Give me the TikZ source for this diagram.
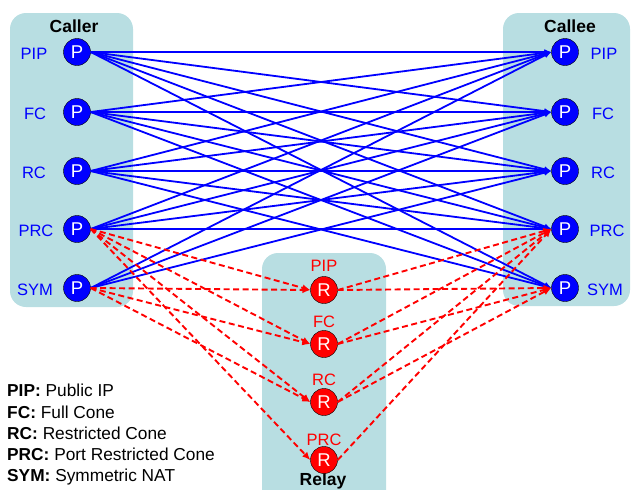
\documentclass[tikz,border=0pt]{standalone}
\usepackage{fontspec}
\setmainfont{Liberation Sans}
\usetikzlibrary{arrows.meta}
\definecolor{CZone}{HTML}{B8DEE2}
\definecolor{CBlue}{HTML}{0000FF}
\definecolor{CRed}{HTML}{FF0000}

\begin{document}
\begin{tikzpicture}[x=1pt, y=-1pt,
    zone/.style={fill=CZone, rounded corners=16pt},
    title/.style={font=\fontsize{17.5}{20}\selectfont\bfseries, anchor=base},
    pnode/.style={circle, draw=black, fill=CBlue, text=white, minimum size=27pt, inner sep=0pt, font=\fontsize{18.5}{20}\selectfont},
    rnode/.style={pnode, fill=CRed},
    plbl/.style={text=CBlue, font=\fontsize{16.5}{19}\selectfont},
    rlbl/.style={text=CRed, font=\fontsize{16.5}{19}\selectfont},
    direct/.style={CBlue, line width=1.8pt, -{Latex[length=7pt,width=6pt]}},
    relayed/.style={CRed, line width=1.9pt, dash pattern=on 6pt off 3.5pt, -{Latex[length=8pt,width=7pt]}}
]
    \useasboundingbox (0,0) rectangle (632,490);

    % Zones
    \fill[zone] (10,13) rectangle (133,307);
    \fill[zone] (503,13) rectangle (630,306);
    \fill[zone] (262,253) rectangle (386,510);
    \node[title] (caller) at (74,32) {Caller};
    \node[title] (callee) at (570,32) {Callee};
    \node[title] (relay) at (323,485) {Relay};

    % Caller peers
    \node[pnode] (cPIP) at (77,52) {P};
    \node[pnode] (cFC) at (77,112) {P};
    \node[pnode] (cRC) at (77,171) {P};
    \node[pnode] (cPRC) at (77,229) {P};
    \node[pnode] (cSYM) at (77,288) {P};
    \node[plbl] at (34,54) {PIP};
    \node[plbl] at (35,114) {FC};
    \node[plbl] at (34,173) {RC};
    \node[plbl] at (36,231) {PRC};
    \node[plbl] at (35,290) {SYM};

    % Callee peers
    \node[pnode] (ePIP) at (565,52) {P};
    \node[pnode] (eFC) at (565,112) {P};
    \node[pnode] (eRC) at (565,171) {P};
    \node[pnode] (ePRC) at (565,229) {P};
    \node[pnode] (eSYM) at (565,288) {P};
    \node[plbl] at (604,54) {PIP};
    \node[plbl] at (603,114) {FC};
    \node[plbl] at (603,173) {RC};
    \node[plbl] at (607,231) {PRC};
    \node[plbl] at (605,290) {SYM};

    % Relays
    \node[rnode] (rPIP) at (324,290) {R};
    \node[rnode] (rFC) at (324,344) {R};
    \node[rnode] (rRC) at (324,402) {R};
    \node[rnode] (rPRC) at (324,460) {R};
    \node[rlbl] at (324,266) {PIP};
    \node[rlbl] at (324,322) {FC};
    \node[rlbl] at (324,380) {RC};
    \node[rlbl] at (324,440) {PRC};

    % Direct connections
    \foreach \s/\t in {PIP/PIP, PIP/FC, PIP/RC, PIP/PRC, PIP/SYM,
                       FC/PIP, FC/FC, FC/RC, FC/PRC, FC/SYM,
                       RC/PIP, RC/FC, RC/RC, RC/PRC, RC/SYM,
                       PRC/PIP, PRC/FC, PRC/RC, PRC/PRC,
                       SYM/PIP, SYM/FC, SYM/RC}
        \draw[direct] (c\s.east) -- (e\t.west);

    % Relayed connections
    \foreach \s/\t in {PRC/PIP, PRC/FC, PRC/RC, PRC/PRC, SYM/PIP, SYM/FC, SYM/RC}
        \draw[relayed] (c\s.east) -- (r\t.west);
    \foreach \s/\t in {PIP/PRC, PIP/SYM, FC/PRC, FC/SYM, RC/PRC, RC/SYM, PRC/PRC}
        \draw[relayed] (r\s.east) -- (e\t.west);

    % Legend
    \node[anchor=north west, inner sep=0pt, align=left, font=\fontsize{17.3}{21.3}\selectfont] (legend) at (7,384)
        {\textbf{PIP:} Public IP\\\textbf{FC:} Full Cone\\\textbf{RC:} Restricted Cone\\\textbf{PRC:} Port Restricted Cone\\\textbf{SYM:} Symmetric NAT};
\end{tikzpicture}
\end{document}
